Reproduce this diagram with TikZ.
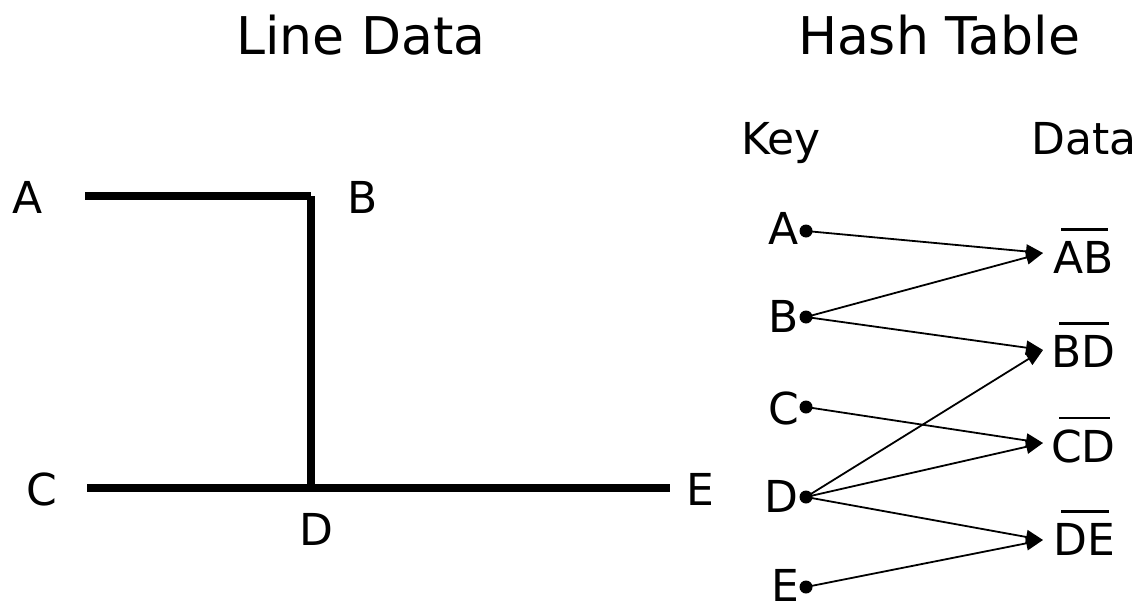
\documentclass[tikz,border=0pt]{standalone}
\usepackage{fontspec}
\setmainfont{DejaVu Sans}
\usetikzlibrary{arrows.meta}
\begin{document}
\begin{tikzpicture}[x=1pt,y=-1pt,
  heading/.style={font=\fontsize{52}{60}\selectfont, anchor=base, inner sep=0},
  lbl/.style={font=\fontsize{44}{52}\selectfont, anchor=base, inner sep=0},
  seg/.style={line width=8pt},
  dot/.style={circle, fill, inner sep=0, minimum size=13pt},
  link/.style={line width=1.8pt, -{Triangle[length=17pt,width=14pt]}},
  bar/.style={line width=2.6pt}]
\useasboundingbox (0,0) rectangle (1143,605);

% headings
\node[heading] (t1) at (361,54) {Line Data};
\node[heading] (t2) at (939,54) {Hash Table};

% line data: the segments
\coordinate (pA) at (85,196);
\coordinate (pB) at (311,196);
\coordinate (pC) at (87,488);
\coordinate (pD) at (311,488);
\coordinate (pE) at (670,488);
\draw[seg] (pA) -- (pB);
\draw[seg] (pB) -- (pD);
\draw[seg] (pC) -- (pE);
\node[lbl] (nA) at (28,213) {A};
\node[lbl] (nB) at (363,213) {B};
\node[lbl] (nC) at (42,505) {C};
\node[lbl] (nD) at (316,545) {D};
\node[lbl] (nE) at (700,505) {E};

% hash table columns
\node[lbl] (hk) at (781,154) {Key};
\node[lbl, anchor=base west] (hd) at (1031,154) {Data};

% keys
\node[dot] (kA) at (806,231) {};
\node[dot] (kB) at (806,317) {};
\node[dot] (kC) at (806,407) {};
\node[dot] (kD) at (806,497) {};
\node[dot] (kE) at (806,587) {};
\node[lbl, anchor=base east] (lA) at (799,244) {A};
\node[lbl, anchor=base east] (lB) at (799,332) {B};
\node[lbl, anchor=base east] (lC) at (799,424) {C};
\node[lbl, anchor=base east] (lD) at (799,512) {D};
\node[lbl, anchor=base east] (lE) at (799,601) {E};

% data entries (segments with overbars)
\node[lbl, anchor=base west] (dAB) at (1053,273) {AB};
\node[lbl, anchor=base west] (dBD) at (1051,367) {BD};
\node[lbl, anchor=base west] (dCD) at (1051,462) {CD};
\node[lbl, anchor=base west] (dDE) at (1053,555) {DE};
\foreach \d in {dAB,dBD,dCD,dDE}
  \draw[bar] ([xshift=8pt,yshift=11pt]\d.north west) -- ([xshift=-6pt,yshift=11pt]\d.north east);

% arrow entry points
\coordinate (iAB) at (1043,253);
\coordinate (iBD) at (1043,350);
\coordinate (iCD) at (1043,443);
\coordinate (iDE) at (1043,540);

% key -> data links
\draw[link] (kA.center) -- (iAB);
\draw[link] (kB.center) -- (iAB);
\draw[link] (kB.center) -- (iBD);
\draw[link] (kD.center) -- (iBD);
\draw[link] (kC.center) -- (iCD);
\draw[link] (kD.center) -- (iCD);
\draw[link] (kD.center) -- (iDE);
\draw[link] (kE.center) -- (iDE);
\end{tikzpicture}
\end{document}
